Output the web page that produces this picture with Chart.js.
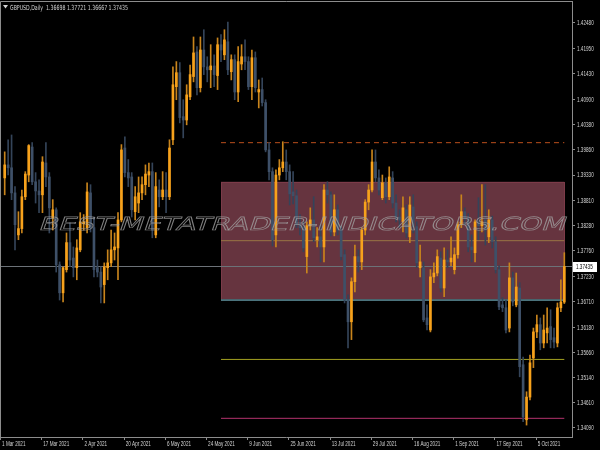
<!DOCTYPE html>
<html>
<head>
<meta charset="utf-8">
<title>GBPUSD Daily</title>
<script src="https://cdn.jsdelivr.net/npm/chart.js@4.4.1/dist/chart.umd.min.js"></script>
<style>
  html, body { margin: 0; padding: 0; background: #000; }
  canvas { display: block; }
</style>
</head>
<body>
<canvas id="chart" width="600" height="450"></canvas>
<script>
// GBPUSD daily bars (2 Mar .. 14 Oct 2021)
const opens = [
    1.3927, 1.3954, 1.3948, 1.3896, 1.3809, 1.3822, 1.3888, 1.3933, 1.3991, 1.3919,
    1.3900, 1.3892, 1.3958, 1.3929, 1.3844, 1.3861, 1.3747, 1.3689, 1.3737, 1.3793,
    1.3761, 1.3741, 1.3778, 1.3832, 1.3824, 1.3896, 1.3824, 1.3741, 1.3732, 1.3706,
    1.3741, 1.3751, 1.3778, 1.3782, 1.3840, 1.3989, 1.3938, 1.3929, 1.3857, 1.3875,
    1.3896, 1.3913, 1.3933, 1.3940, 1.3809, 1.3902, 1.3888, 1.3902, 1.3888, 1.4006,
    1.4116, 1.4145, 1.4054, 1.4047, 1.4095, 1.4137, 1.4188, 1.4114, 1.4192, 1.4157,
    1.4151, 1.4159, 1.4139, 1.4203, 1.4182, 1.4209, 1.4147, 1.4172, 1.4105, 1.4163,
    1.4178, 1.4168, 1.4116, 1.4176, 1.4105, 1.4110, 1.4083, 1.3985, 1.3940, 1.3809,
    1.3933, 1.3948, 1.3960, 1.3940, 1.3898, 1.3890, 1.3830, 1.3824, 1.3764, 1.3828,
    1.3840, 1.3799, 1.3805, 1.3784, 1.3902, 1.3892, 1.3815, 1.3861, 1.3819, 1.3768,
    1.3674, 1.3629, 1.3712, 1.3764, 1.3753, 1.3819, 1.3877, 1.3902, 1.3960, 1.3927,
    1.3886, 1.3917, 1.3888, 1.3927, 1.3875, 1.3846, 1.3836, 1.3861, 1.3805, 1.3867,
    1.3826, 1.3741, 1.3741, 1.3637, 1.3612, 1.3722, 1.3730, 1.3761, 1.3699, 1.3757,
    1.3753, 1.3737, 1.3768, 1.3830, 1.3857, 1.3844, 1.3784, 1.3772, 1.3836, 1.3828,
    1.3840, 1.3805, 1.3840, 1.3795, 1.3737, 1.3664, 1.3658, 1.3616, 1.3720, 1.3664,
    1.3699, 1.3540, 1.3426, 1.3473, 1.3554, 1.3608, 1.3623, 1.3585, 1.3606, 1.3619,
    1.3596, 1.3585, 1.3658, 1.36698
];
const highs = [
    1.3981, 1.4006, 1.4016, 1.3909, 1.3857, 1.3902, 1.3940, 1.3996, 1.4000, 1.3938,
    1.3923, 1.3971, 1.4000, 1.3938, 1.3882, 1.3865, 1.3753, 1.3743, 1.3813, 1.3834,
    1.3784, 1.3799, 1.3855, 1.3851, 1.3917, 1.3913, 1.3846, 1.3757, 1.3743, 1.3751,
    1.3778, 1.3819, 1.3813, 1.3855, 1.3996, 1.4012, 1.3965, 1.3938, 1.3909, 1.3929,
    1.3929, 1.3954, 1.3958, 1.3958, 1.3938, 1.3923, 1.3940, 1.3938, 1.4006, 1.4157,
    1.4168, 1.4166, 1.4089, 1.4120, 1.4161, 1.4219, 1.4199, 1.4219, 1.4234, 1.4178,
    1.4203, 1.4182, 1.4217, 1.4224, 1.4234, 1.4250, 1.4182, 1.4182, 1.4199, 1.4203,
    1.4213, 1.4178, 1.4192, 1.4188, 1.4130, 1.4134, 1.4089, 1.4000, 1.3948, 1.3944,
    1.3965, 1.4002, 1.3985, 1.3954, 1.3940, 1.3902, 1.3851, 1.3836, 1.3836, 1.3865,
    1.3888, 1.3824, 1.3830, 1.3913, 1.3919, 1.3898, 1.3892, 1.3871, 1.3828, 1.3778,
    1.3685, 1.3720, 1.3788, 1.3778, 1.3824, 1.3882, 1.3913, 1.3985, 1.3985, 1.3944,
    1.3933, 1.3927, 1.3950, 1.3940, 1.3892, 1.3861, 1.3888, 1.3871, 1.3888, 1.3892,
    1.3836, 1.3788, 1.3753, 1.3664, 1.3737, 1.3751, 1.3778, 1.3774, 1.3782, 1.3778,
    1.3805, 1.3782, 1.3836, 1.3892, 1.3865, 1.3853, 1.3809, 1.3840, 1.3886, 1.3913,
    1.3913, 1.3861, 1.3848, 1.3805, 1.3745, 1.3679, 1.3674, 1.3751, 1.3732, 1.3730,
    1.3710, 1.3556, 1.3484, 1.3560, 1.3616, 1.3643, 1.3637, 1.3643, 1.3658, 1.3654,
    1.3616, 1.3668, 1.3716, 1.37721
];
const lows = [
    1.3892, 1.3933, 1.3882, 1.3778, 1.3799, 1.3813, 1.3882, 1.3919, 1.3913, 1.3875,
    1.3855, 1.3855, 1.3909, 1.3813, 1.3819, 1.3732, 1.3674, 1.3670, 1.3732, 1.3743,
    1.3722, 1.3716, 1.3774, 1.3819, 1.3813, 1.3815, 1.3722, 1.3722, 1.3668, 1.3668,
    1.3716, 1.3743, 1.3757, 1.3716, 1.3836, 1.3929, 1.3909, 1.3846, 1.3840, 1.3855,
    1.3882, 1.3892, 1.3909, 1.3803, 1.3803, 1.3867, 1.3882, 1.3855, 1.3882, 1.3996,
    1.4089, 1.4041, 1.4010, 1.4037, 1.4089, 1.4126, 1.4099, 1.4105, 1.4141, 1.4126,
    1.4114, 1.4116, 1.4110, 1.4168, 1.4172, 1.4141, 1.4130, 1.4089, 1.4085, 1.4151,
    1.4151, 1.4110, 1.4089, 1.4105, 1.4072, 1.4076, 1.3981, 1.3923, 1.3786, 1.3784,
    1.3923, 1.3940, 1.3923, 1.3871, 1.3873, 1.3824, 1.3809, 1.3774, 1.3730, 1.3819,
    1.3795, 1.3784, 1.3753, 1.3753, 1.3875, 1.3807, 1.3807, 1.3809, 1.3757, 1.3668,
    1.3575, 1.3592, 1.3691, 1.3732, 1.3737, 1.3809, 1.3861, 1.3898, 1.3919, 1.3892,
    1.3882, 1.3875, 1.3882, 1.3865, 1.3836, 1.3824, 1.3815, 1.3803, 1.3793, 1.3813,
    1.3741, 1.3722, 1.3629, 1.3612, 1.3608, 1.3710, 1.3724, 1.3691, 1.3681, 1.3741,
    1.3745, 1.3728, 1.3761, 1.3824, 1.3830, 1.3774, 1.3753, 1.3753, 1.3799, 1.3815,
    1.3788, 1.3793, 1.3782, 1.3730, 1.3654, 1.3650, 1.3606, 1.3608, 1.3662, 1.3660,
    1.3515, 1.3422, 1.3415, 1.3467, 1.3534, 1.3596, 1.3571, 1.3575, 1.3585, 1.3575,
    1.3575, 1.3577, 1.3650, 1.36667
];
const closes = [
    1.3954, 1.3948, 1.3896, 1.3830, 1.3822, 1.3888, 1.3935, 1.3994, 1.3919, 1.3900,
    1.3892, 1.3960, 1.3929, 1.3865, 1.3861, 1.3747, 1.3689, 1.3741, 1.3793, 1.3757,
    1.3741, 1.3782, 1.3836, 1.3836, 1.3898, 1.3824, 1.3737, 1.3732, 1.3701, 1.3743,
    1.3751, 1.3778, 1.3784, 1.3840, 1.3985, 1.3938, 1.3927, 1.3861, 1.3888, 1.3896,
    1.3913, 1.3935, 1.3940, 1.3819, 1.3909, 1.3888, 1.3902, 1.3888, 1.3989, 1.4120,
    1.4145, 1.4052, 1.4047, 1.4099, 1.4141, 1.4186, 1.4114, 1.4192, 1.4157, 1.4151,
    1.4159, 1.4141, 1.4203, 1.4192, 1.4213, 1.4151, 1.4172, 1.4105, 1.4168, 1.4178,
    1.4168, 1.4116, 1.4176, 1.4114, 1.4110, 1.4083, 1.3985, 1.3940, 1.3799, 1.3933,
    1.3948, 1.3960, 1.3940, 1.3894, 1.3890, 1.3830, 1.3824, 1.3782, 1.3828, 1.3840,
    1.3803, 1.3805, 1.3784, 1.3902, 1.3892, 1.3815, 1.3861, 1.3819, 1.3764, 1.3674,
    1.3629, 1.3712, 1.3764, 1.3753, 1.3819, 1.3877, 1.3902, 1.3960, 1.3927, 1.3902,
    1.3917, 1.3888, 1.3929, 1.3875, 1.3846, 1.3840, 1.3865, 1.3813, 1.3871, 1.3826,
    1.3751, 1.3753, 1.3633, 1.3623, 1.3722, 1.3730, 1.3764, 1.3699, 1.3757, 1.3753,
    1.3761, 1.3768, 1.3830, 1.3857, 1.3844, 1.3784, 1.3778, 1.3836, 1.3828, 1.3836,
    1.3819, 1.3840, 1.3795, 1.3737, 1.3660, 1.3658, 1.3612, 1.3720, 1.3670, 1.3701,
    1.3536, 1.3432, 1.3473, 1.3544, 1.3608, 1.3623, 1.3585, 1.3612, 1.3616, 1.3592,
    1.3587, 1.3658, 1.3670, 1.37435
];

// time axis labels, one every 12 bars
const dateLabels = ['1 Mar 2021', '17 Mar 2021', '2 Apr 2021', '20 Apr 2021', '6 May 2021',
    '24 May 2021', '9 Jun 2021', '25 Jun 2021', '13 Jul 2021', '29 Jul 2021',
    '16 Aug 2021', '1 Sep 2021', '17 Sep 2021', '5 Oct 2021'];
const priceTicks = [1.42480, 1.41950, 1.41430, 1.40900, 1.40380, 1.39860, 1.39330, 1.38810,
    1.38280, 1.37760, 1.37230, 1.36710, 1.36180, 1.35660, 1.35140, 1.34610, 1.34090];

// indicator levels
const zoneTop = 1.3919;
const zoneMid = 1.3797;
const zoneBottom = 1.3674;
const dashLevel = 1.4000;
const support1 = 1.3551;
const support2 = 1.3429;
const zoneFromBar = 63;
const zoneToBar = 163;

const BULL = '#f7a21c';
const BEAR = '#3e5068';
const BULL_WICK = '#c8841c';
const BEAR_WICK = '#344459';
const AXIS = '#8c8c8c';
const TEXT = '#d4d4d4';
const SMALL_FONT = '7px "Liberation Sans", Arial, sans-serif';
const SQUEEZE = 0.66;   // terminal font is much narrower than anything installed

const X_MIN = -1.37, X_MAX = 165.24;
const Y_MIN = 1.33903, Y_MAX = 1.42935;

const last = closes.length - 1;
const lastClose = closes[last];
// the first date label sits one bar (and a bit) left of the first visible candle
const dateTickBars = dateLabels.map((_, i) => i * 12 - 1.2);

const wickData = opens.map((o, i) => ({ x: i, y: [lows[i], highs[i]] }));
const bodyData = opens.map((o, i) => ({ x: i, y: [o, closes[i]] }));
const up = opens.map((o, i) => closes[i] >= o);

function levelLine(value, color, dash) {
    return {
        type: 'line',
        data: [{ x: zoneFromBar, y: value }, { x: zoneToBar, y: value }],
        borderColor: color,
        borderWidth: 1,
        borderDash: dash || [],
        pointRadius: 0,
        fill: false,
        order: 5
    };
}

function squeezedText(ctx, text, x, y, align) {
    ctx.save();
    ctx.font = SMALL_FONT;
    const w = ctx.measureText(text).width * SQUEEZE;
    ctx.translate(align === 'center' ? x - w / 2 : x, y);
    ctx.scale(SQUEEZE, 1);
    ctx.textAlign = 'left';
    ctx.textBaseline = 'middle';
    ctx.fillText(text, 0, 0);
    ctx.restore();
    return w;
}

const background = {
    id: 'background',
    beforeDraw(chart) {
        const ctx = chart.ctx;
        ctx.save();
        ctx.fillStyle = '#000';
        ctx.fillRect(0, 0, chart.width, chart.height);
        ctx.restore();
    }
};

const zoneBox = {
    id: 'zoneBox',
    beforeDatasetsDraw(chart) {
        const { ctx, scales: { x, y } } = chart;
        const x0 = x.getPixelForValue(zoneFromBar);
        const x1 = x.getPixelForValue(zoneToBar);
        const y0 = y.getPixelForValue(zoneTop);
        const y1 = y.getPixelForValue(zoneBottom);
        ctx.save();
        ctx.fillStyle = '#66343f';
        ctx.fillRect(x0, y0, x1 - x0, y1 - y0);
        ctx.strokeStyle = '#7c3b49';
        ctx.lineWidth = 1;
        ctx.strokeRect(Math.round(x0) + 0.5, Math.round(y0) + 0.5, Math.round(x1 - x0), Math.round(y1 - y0));
        ctx.restore();
    }
};

const watermark = {
    id: 'watermark',
    afterDatasetsDraw(chart) {
        const ctx = chart.ctx;
        const text = 'BEST-METATRADER-INDICATORS.COM';
        ctx.save();
        ctx.font = '18px "DejaVu Sans"';
        const w = ctx.measureText(text).width;
        ctx.translate(38, 230);
        ctx.transform(527 / w, 0, -0.34, 1, 0, 0);
        ctx.strokeStyle = 'rgba(160,160,160,0.8)';
        ctx.lineWidth = 0.7;
        ctx.strokeText(text, 0, 0);
        ctx.restore();
    }
};

const axisLabels = {
    id: 'axisLabels',
    afterDraw(chart) {
        const { ctx, chartArea, scales: { x, y } } = chart;
        ctx.save();
        ctx.fillStyle = TEXT;
        x.ticks.forEach((t, i) => {
            squeezedText(ctx, dateLabels[i], x.getPixelForValue(t.value) + 1.5, chartArea.bottom + 7.5, 'left');
        });
        y.ticks.forEach(t => {
            squeezedText(ctx, t.value.toFixed(5), chartArea.right + 5, y.getPixelForValue(t.value) + 0.5, 'left');
        });
        ctx.restore();
    }
};

const decorations = {
    id: 'decorations',
    afterDraw(chart) {
        const { ctx, chartArea, scales: { y } } = chart;
        ctx.save();
        // frame left/top
        ctx.strokeStyle = AXIS;
        ctx.lineWidth = 1;
        ctx.beginPath();
        ctx.moveTo(0.5, chartArea.bottom);
        ctx.lineTo(0.5, chartArea.top + 0.5);
        ctx.lineTo(chartArea.right, chartArea.top + 0.5);
        ctx.stroke();

        // header
        ctx.fillStyle = TEXT;
        ctx.beginPath();
        ctx.moveTo(3, 5);
        ctx.lineTo(8, 5);
        ctx.lineTo(5.5, 8.5);
        ctx.closePath();
        ctx.fill();
        const header = 'GBPUSD,Daily  ' + [opens[last], highs[last], lows[last], closes[last]]
            .map(v => v.toFixed(5)).join(' ');
        ctx.font = '7px "DejaVu Sans"';
        const hw = ctx.measureText(header).width;
        ctx.translate(10, 9.5);
        ctx.scale(118 / hw, 1);
        ctx.fillText(header, 0, 0);
        ctx.setTransform(1, 0, 0, 1, 0, 0);

        // last price tag
        const py = Math.round(y.getPixelForValue(lastClose));
        ctx.fillStyle = '#ffffff';
        ctx.fillRect(chartArea.right + 1, py - 5, 24, 10);
        ctx.fillStyle = '#000';
        squeezedText(ctx, lastClose.toFixed(5), chartArea.right + 4, py + 0.5, 'left');
        ctx.restore();
    }
};

new Chart(document.getElementById('chart').getContext('2d'), {
    type: 'bar',
    data: {
        datasets: [
            {
                label: 'wick',
                data: wickData,
                backgroundColor: up.map(u => u ? BULL_WICK : BEAR_WICK),
                barThickness: 1,
                grouped: false,
                borderWidth: 0,
                order: 2
            },
            {
                label: 'body',
                data: bodyData,
                backgroundColor: up.map(u => u ? BULL : BEAR),
                barThickness: 2,
                minBarLength: 1,
                grouped: false,
                borderWidth: 0,
                order: 1
            },
            levelLine(dashLevel, '#bb4f1c', [5, 4]),
            levelLine(zoneMid, '#9a7444'),
            levelLine(zoneBottom, '#23a3a6'),
            levelLine(support1, '#a3a021'),
            levelLine(support2, '#b5336e'),
            {
                type: 'line',
                data: [{ x: X_MIN, y: lastClose }, { x: X_MAX, y: lastClose }],
                borderColor: '#6c7278',
                borderWidth: 1,
                pointRadius: 0,
                fill: false,
                order: 6
            }
        ]
    },
    options: {
        responsive: false,
        animation: false,
        events: [],
        layout: { padding: { top: 1, left: 0, right: 0, bottom: 0 } },
        plugins: {
            legend: { display: false },
            tooltip: { enabled: false }
        },
        scales: {
            x: {
                type: 'linear',
                min: X_MIN,
                max: X_MAX,
                offset: false,
                grid: { display: true, drawOnChartArea: false, drawTicks: true, tickLength: 3, color: AXIS, offset: false },
                border: { display: true, color: AXIS },
                afterBuildTicks: scale => { scale.ticks = dateTickBars.map(v => ({ value: v })); },
                afterFit: scale => {
                    scale.height = 13;
                    scale.paddingLeft = scale.paddingRight = 0;
                },
                ticks: { display: false, autoSkip: false, maxRotation: 0 }
            },
            y: {
                position: 'right',
                min: Y_MIN,
                max: Y_MAX,
                grid: { display: true, drawOnChartArea: false, drawTicks: true, tickLength: 3, color: AXIS },
                border: { display: true, color: AXIS },
                afterBuildTicks: scale => { scale.ticks = priceTicks.map(v => ({ value: v })); },
                afterFit: scale => {
                    scale.width = 28;
                    scale.paddingTop = scale.paddingBottom = 0;
                },
                ticks: { display: false, autoSkip: false }
            }
        }
    },
    plugins: [background, zoneBox, watermark, axisLabels, decorations]
});
</script>
</body>
</html>
